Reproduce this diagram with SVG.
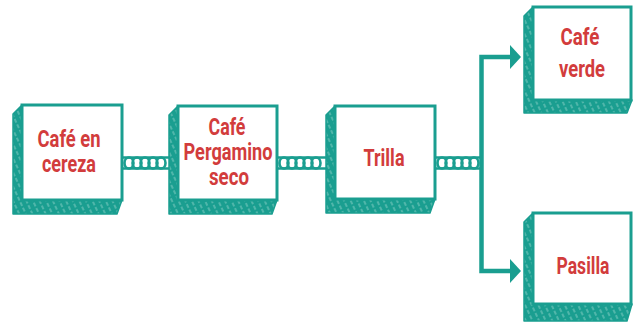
<svg xmlns="http://www.w3.org/2000/svg" width="633" height="323" viewBox="0 0 633 323">
<style>
.face{fill:#ffffff;stroke:#1a9e90;stroke-width:3}
.side{fill:url(#hatch);stroke:#1a9e90;stroke-width:1.5;stroke-linejoin:round}
.lbl{font-family:Roboto,"Liberation Sans",sans-serif;font-weight:bold;font-size:23px;fill:#d23c3c;text-anchor:middle}
.link{fill:none;stroke:#1a9e90;stroke-width:2.6}
.wire{fill:none;stroke:#1a9e90;stroke-width:4.5}
.head{fill:#1a9e90}
</style>
<defs>
<pattern id="hatch" patternUnits="userSpaceOnUse" width="6" height="6" patternTransform="rotate(65)">
<rect width="6" height="6" fill="#1a9e90"/>
<line x1="0" y1="1" x2="4" y2="1" stroke="#9fdad2" stroke-width="0.8"/>
</pattern>
</defs>
<g id="connectors">
<g id="chain1">
<line x1="122" y1="157.5" x2="170" y2="157.5" class="link"/>
<line x1="122" y1="168.5" x2="170" y2="168.5" class="link"/>
<ellipse cx="129" cy="163" rx="4.5" ry="5.5" class="link"/>
<ellipse cx="137" cy="163" rx="4.5" ry="5.5" class="link"/>
<ellipse cx="145" cy="163" rx="4.5" ry="5.5" class="link"/>
<ellipse cx="153" cy="163" rx="4.5" ry="5.5" class="link"/>
<ellipse cx="161" cy="163" rx="4.5" ry="5.5" class="link"/>
</g>
<g id="chain2">
<line x1="277" y1="157.5" x2="327" y2="157.5" class="link"/>
<line x1="277" y1="168.5" x2="327" y2="168.5" class="link"/>
<ellipse cx="284" cy="163" rx="4.5" ry="5.5" class="link"/>
<ellipse cx="292" cy="163" rx="4.5" ry="5.5" class="link"/>
<ellipse cx="300" cy="163" rx="4.5" ry="5.5" class="link"/>
<ellipse cx="308" cy="163" rx="4.5" ry="5.5" class="link"/>
<ellipse cx="316" cy="163" rx="4.5" ry="5.5" class="link"/>
</g>
<g id="chain3">
<line x1="435" y1="157.5" x2="480" y2="157.5" class="link"/>
<line x1="435" y1="168.5" x2="480" y2="168.5" class="link"/>
<ellipse cx="442" cy="163" rx="4.5" ry="5.5" class="link"/>
<ellipse cx="450" cy="163" rx="4.5" ry="5.5" class="link"/>
<ellipse cx="458" cy="163" rx="4.5" ry="5.5" class="link"/>
<ellipse cx="466" cy="163" rx="4.5" ry="5.5" class="link"/>
<ellipse cx="474" cy="163" rx="4.5" ry="5.5" class="link"/>
</g>
<path d="M513,57 H481.5 V271 H513" class="wire"/>
<polygon points="510,45 521,57 510,69" class="head"/>
<polygon points="510,259 521,271 510,283" class="head"/>
</g>
<g id="node-cafe-cereza">
<polygon points="22,105 13,114 13,214 117,214 122,200" class="side"/>
<rect x="22" y="105" width="100" height="95" class="face"/>
<text class="lbl" x="69" y="147" textLength="63" lengthAdjust="spacingAndGlyphs">Café en</text>
<text class="lbl" x="69" y="172" textLength="54" lengthAdjust="spacingAndGlyphs">cereza</text>
</g>
<g id="node-pergamino">
<polygon points="178,106 169,115 169,214 272,214 277,200" class="side"/>
<rect x="178" y="106" width="99" height="94" class="face"/>
<text class="lbl" x="227" y="135" textLength="37" lengthAdjust="spacingAndGlyphs">Café</text>
<text class="lbl" x="228" y="160" textLength="89" lengthAdjust="spacingAndGlyphs">Pergamino</text>
<text class="lbl" x="229" y="185" textLength="40" lengthAdjust="spacingAndGlyphs">seco</text>
</g>
<g id="node-trilla">
<polygon points="335,106 326,115 326,213 430,213 435,199" class="side"/>
<rect x="335" y="106" width="100" height="93" class="face"/>
<text class="lbl" x="384" y="166" textLength="41" lengthAdjust="spacingAndGlyphs">Trilla</text>
</g>
<g id="node-cafe-verde">
<polygon points="533,7 524,16 524,113 627,113 632,100" class="side"/>
<rect x="533" y="7" width="98" height="93" class="face"/>
<text class="lbl" x="580" y="45" textLength="39" lengthAdjust="spacingAndGlyphs">Café</text>
<text class="lbl" x="582" y="77" textLength="46" lengthAdjust="spacingAndGlyphs">verde</text>
</g>
<g id="node-pasilla">
<polygon points="533,213 524,222 524,321 627,321 632,304" class="side"/>
<rect x="533" y="213" width="98" height="91" class="face"/>
<text class="lbl" x="583" y="274" textLength="53" lengthAdjust="spacingAndGlyphs">Pasilla</text>
</g>
</svg>
